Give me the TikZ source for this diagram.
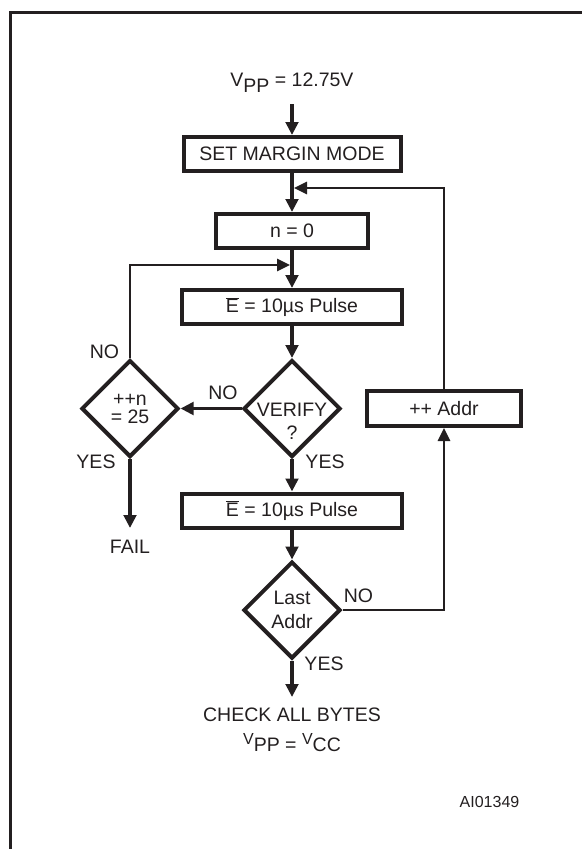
\documentclass[tikz,border=0pt]{standalone}
\usepackage{fontspec}
\setmainfont{Liberation Sans}
\usetikzlibrary{arrows.meta,shapes.geometric}
\definecolor{ink}{HTML}{231F20}
\newcommand{\ebar}{$\overline{\mbox{E}}$}
\newcommand{\vsub}[1]{V\raisebox{-6pt}{#1}}
\newcommand{\vsup}[1]{\raisebox{7pt}{\fontsize{16}{16}\selectfont V}#1}
\tikzset{
  stepbox/.style={draw=ink, line width=4pt, minimum height=34pt, inner sep=0pt, text=ink},
  decision/.style={diamond, draw=ink, line width=4pt, minimum width=97pt, minimum height=97pt, inner sep=0pt, align=center, text=ink},
  lbl/.style={inner sep=0pt, text=ink},
  flow/.style={draw=ink, line width=3.5pt, -{Triangle[length=13pt,width=12.5pt]}},
  backline/.style={draw=ink, line width=2.7pt},
  backflow/.style={backline, -{Triangle[length=13pt,width=12pt]}},
  borderline/.style={draw=ink, line width=3.5pt}
}

\begin{document}
\begin{tikzpicture}[x=1pt, y=-1pt, font=\fontsize{19.5}{23}\selectfont]
\useasboundingbox (0,0) rectangle (582,849);
\draw[borderline] (10.5,849) -- (10.5,12.5) -- (582,12.5);

% main column
\node[lbl] (vpp) at (292,83) {\vsub{PP} = 12.75V};
\node[stepbox, minimum width=217pt] (margin) at (292,154) {SET MARGIN MODE};
\node[stepbox, minimum width=152pt] (nzero) at (292,231) {n = 0};
\node[stepbox, minimum width=220pt] (pulseA) at (292,307) {\ebar{} = 10µs Pulse};
\node[decision] (verify) at (292,408.5) {};
\node[lbl, align=center] (verifytext) at (292,421.5) {VERIFY\\?};
\node[stepbox, minimum width=220pt] (pulseB) at (292,510.5) {\ebar{} = 10µs Pulse};
\node[decision, font=\fontsize{19.5}{24}\selectfont] (last) at (292,610) {Last\\Addr};
\node[lbl, align=center, anchor=north, font=\fontsize{19.5}{30}\selectfont] (check) at (292,708) {CHECK ALL BYTES\\\vsup{PP} = \vsup{CC}};

% side branches
\node[decision, font=\fontsize{19.5}{18}\selectfont] (count) at (130,408.5) {++n\\= 25};
\node[lbl, anchor=north] (fail) at (130,540) {FAIL};
\node[stepbox, minimum width=154pt, minimum height=35pt] (addr) at (444,408.5) {++ Addr};

\coordinate (joinaddr) at (294,188);
\coordinate (joincount) at (290,265);

% labels
\node[lbl] (noverify) at (223,393) {NO};
\node[lbl] (nocount) at (104.5,352) {NO};
\node[lbl] (yescount) at (96,461.5) {YES};
\node[lbl] (yesverify) at (325,461.5) {YES};
\node[lbl] (nolast) at (358.5,596) {NO};
\node[lbl] (yeslast) at (324,664) {YES};
\node[lbl, font=\fontsize{16}{19}\selectfont] (drawing) at (489.5,802) {AI01349};

% connectors
\draw[flow, shorten <=11pt] (vpp.south) -- (margin.north);
\draw[flow] (margin.south) -- (nzero.north);
\draw[flow] (nzero.south) -- (pulseA.north);
\draw[flow] (pulseA.south) -- (verify.north);
\draw[flow] (verify.south) -- (pulseB.north);
\draw[flow] (pulseB.south) -- (last.north);
\draw[flow, shorten >=11pt] (last.south) -- (check.north);
\draw[flow] (verify.west) -- (count.east);
\draw[flow, shorten >=12pt] (count.south) -- (fail.north);
\draw[backflow] (count.north) |- (joincount);
\draw[backflow] (last.east) -| (addr.south);
\draw[backflow] (addr.north) |- (joinaddr);
\end{tikzpicture}
\end{document}
